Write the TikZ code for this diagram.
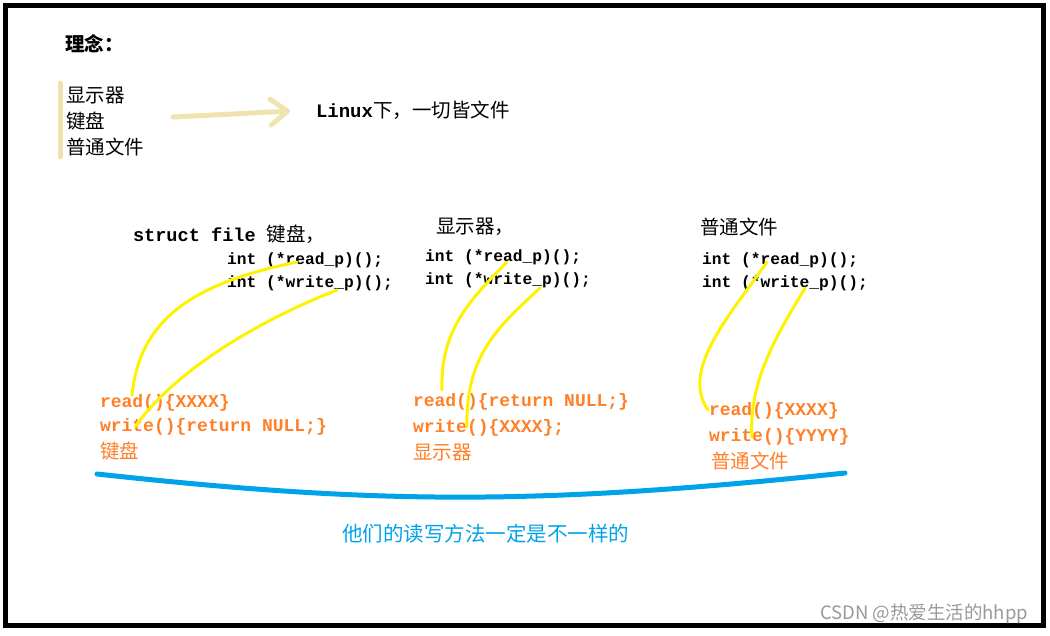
\documentclass[tikz,border=0pt]{standalone}
\usepackage{fontspec}
\setmonofont{Liberation Mono}
\newfontfamily\cjk{Noto Sans CJK SC}
\usepackage{xcolor}
\usetikzlibrary{arrows.meta,positioning}
\definecolor{penyellow}{HTML}{FFF200}
\definecolor{penorange}{HTML}{FF7F27}
\definecolor{penblue}{HTML}{00A2E8}
\definecolor{penbeige}{HTML}{EFE4B0}
\newcommand\cn[1][19.5]{\fontsize{#1}{24}\cjk}
\newcommand\cd[1][16.25]{\fontsize{#1}{20}\ttfamily\bfseries}

\begin{document}
\begin{tikzpicture}[x=1pt,y=-1pt,
  txt/.style={anchor=base west,inner sep=0pt,outer sep=0pt},
  impl/.style={txt,text=penorange},
  link/.style={draw=penyellow,line width=3pt,line cap=round},
  brace/.style={draw=penblue,line width=5pt,line cap=round},
  hint/.style={draw=penbeige,line width=5pt,line cap=round,line join=round}
]
\useasboundingbox (0,0) rectangle (1050,635);
\draw[line width=5pt] (5.5,5.5) rectangle (1043.5,625.5);

\node[txt] (idea) at (65,51) {\cn\bfseries 理念：};
\node[txt] (disp) at (66,102) {\cn 显示器};
\node[txt] (kbd) at (66,128) {\cn 键盘};
\node[txt] (file) at (66,154) {\cn 普通文件};
\node[txt] (linux) at (316,117) {{\cd[19]Linux}{\cn 下，一切皆文件}};

\node[txt] (hk) at (133,241) {{\cd[18.6]struct file }{\cn 键盘，}};
\node[txt] (kr) at (227,264) {\cd int (*read\_p)();};
\node[txt] (kw) at (227,287) {\cd int (*write\_p)();};
\node[txt] (hd) at (436,233) {\cn 显示器，};
\node[txt] (dr) at (425,261) {\cd int (*read\_p)();};
\node[txt] (dw) at (425,284) {\cd int (*write\_p)();};
\node[txt] (hf) at (700,234) {\cn 普通文件};
\node[txt] (fr) at (702,264) {\cd int (*read\_p)();};
\node[txt] (fw) at (702,287) {\cd int (*write\_p)();};

\node[impl] (kR) at (100,407) {\cd[18]read()\{XXXX\}};
\node[impl] (kW) at (100,431) {\cd[18]write()\{return NULL;\}};
\node[impl] (kN) at (100,458) {\cn 键盘};
\node[impl] (dR) at (413,406) {\cd[18]read()\{return NULL;\}};
\node[impl] (dW) at (413,432) {\cd[18]write()\{XXXX\};};
\node[impl] (dN) at (413,459) {\cn 显示器};
\node[impl] (fR) at (709,415) {\cd[18]read()\{XXXX\}};
\node[impl] (fW) at (709,441) {\cd[18]write()\{YYYY\}};
\node[impl] (fN) at (711,468) {\cn 普通文件};

\node[txt,text=penblue] (note) at (342,541) {\cn[20.5]他们的读写方法一定是不一样的};
\node[txt,text=black!40] (wm) at (820,619) {\fontsize{18.5}{22}\cjk CSDN @热爱生活的hhpp};

\coordinate (list) at (60,83);
\coordinate (listend) at (60,157);
\coordinate (from) at (173,117);
\coordinate (kr0) at (297,262);
\coordinate (kw0) at (337,290);
\coordinate (kr1) at (132,395);
\coordinate (kw1) at (135,427);
\coordinate (dr0) at (507,262);
\coordinate (dw0) at (540,288);
\coordinate (dr1) at (442,390);
\coordinate (dw1) at (467,427);
\coordinate (fr0) at (767,262);
\coordinate (fw0) at (805,288);
\coordinate (fr1) at (708,410);
\coordinate (fw1) at (752,437);
\coordinate (bl) at (97,474);
\coordinate (br) at (845,473);

\draw[hint] (list) -- (listend);
\draw[hint,-{Straight Barb[length=17pt,width=26pt,round]},shorten >=26pt] (from) -- (linux.west);

\draw[link] (kr0) .. controls (200,282) and (140,315) .. (kr1);
\draw[link] (kw0) .. controls (260,320) and (175,370) .. (kw1);
\draw[link] (dr0) .. controls (470,300) and (440,330) .. (dr1);
\draw[link] (dw0) .. controls (500,325) and (465,355) .. (dw1);
\draw[link] (fr0) .. controls (730,315) and (680,370) .. (fr1);
\draw[link] (fw0) .. controls (780,330) and (748,380) .. (fw1);

\draw[brace] (bl) .. controls (380,505) and (540,505) .. (br);
\end{tikzpicture}
\end{document}
